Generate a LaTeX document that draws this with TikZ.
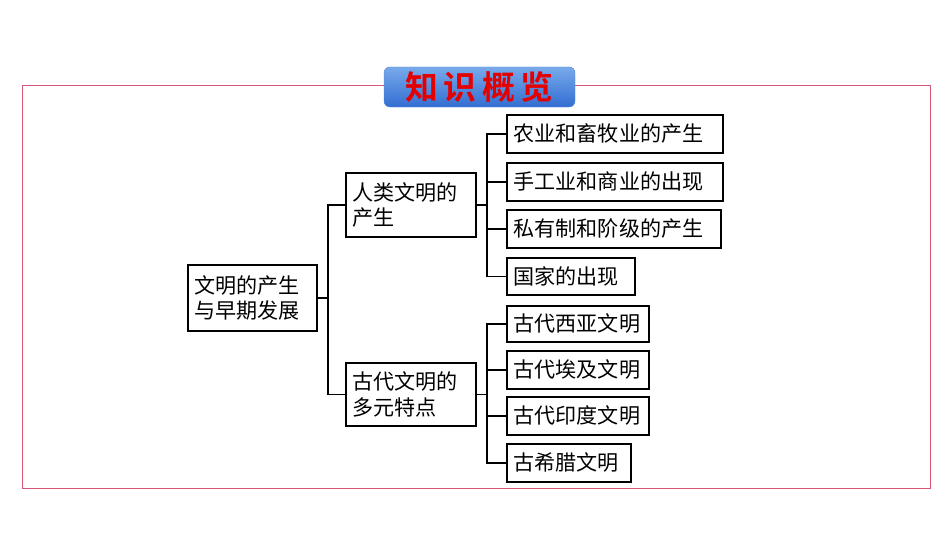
\documentclass[tikz,border=0pt]{standalone}
\usepackage{fontspec}
\newfontfamily\cjk{Noto Sans CJK SC}
\newfontfamily\cjkbold{Noto Sans CJK SC Bold}
\usetikzlibrary{positioning}
\definecolor{framepink}{RGB}{214,88,120}
\definecolor{badgetop}{RGB}{120,170,235}
\definecolor{badgebot}{RGB}{50,110,210}
\tikzset{box/.style={draw,line width=1.6pt,anchor=north west,inner xsep=0.2cm,inner ysep=0pt,font=\cjk\fontsize{18}{22}\selectfont,align=left},
  link/.style={line width=1.6pt}}
\begin{document}
\begin{tikzpicture}[x=0.03cm,y=-0.03cm]
\useasboundingbox (0,0) rectangle (950,535);
\draw [framepink,line width=0.8pt] (22,85) rectangle (930,488);
\node [rounded corners=5pt,top color=badgetop,bottom color=badgebot,draw=badgebot!80,minimum width=5.73cm,minimum height=1.2cm,font=\cjkbold\fontsize{28}{30}\selectfont,text=red!90!black] (title) at (479.5,87) {知\,识\,概\,览};

\node [box,minimum height=1.98cm,text width=3.47cm] (root) at (187,264) {文明的产生\\与早期发展};
\node [box,minimum height=1.92cm,text width=3.5cm] (rise) at (345,172) {人类文明的\\产生};
\node [box,minimum height=1.89cm,text width=3.5cm] (multi) at (345,362) {古代文明的\\多元特点};

\node [box,minimum height=1.14cm,text width=6.08cm] (agri) at (506,114) {农业和畜牧业的产生};
\node [box,minimum height=1.14cm,text width=6.08cm] (craft) at (506,162) {手工业和商业的出现};
\node [box,minimum height=1.14cm,text width=6.02cm] (class) at (506,209) {私有制和阶级的产生};
\node [box,minimum height=1.11cm,text width=3.44cm] (state) at (506,257) {国家的出现};
\node [box,minimum height=1.08cm,text width=3.86cm] (wasia) at (506,305) {古代西亚文明};
\node [box,minimum height=1.14cm,text width=3.86cm] (egypt) at (506,350) {古代埃及文明};
\node [box,minimum height=1.14cm,text width=3.86cm] (india) at (506,396) {古代印度文明};
\node [box,minimum height=1.14cm,text width=3.32cm] (greece) at (506,443) {古希腊文明};

% connectors
\coordinate (s1) at (328,0);
\coordinate (s2) at (487,0);
\draw [link] (root.east) -- (root.east -| s1);
\foreach \n in {rise,multi} \draw [link] (\n.west) -| (s1 |- root.east);
\draw [link] (rise.east) -- (rise.east -| s2);
\foreach \n in {agri,craft,class,state} \draw [link] (\n.west) -| (s2 |- rise.east);
\draw [link] (multi.east) -- (multi.east -| s2);
\foreach \n in {wasia,egypt,india,greece} \draw [link] (\n.west) -| (s2 |- multi.east);
\end{tikzpicture}
\end{document}
